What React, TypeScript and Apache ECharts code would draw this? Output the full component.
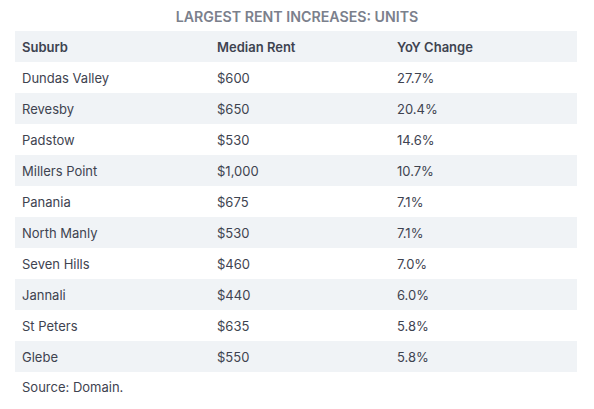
import React, { useEffect, useRef } from "react";
import * as echarts from "echarts";

const title = "LARGEST RENT INCREASES: UNITS";
const headers = ["Suburb", "Median Rent", "YoY Change"];
const suburbs = ["Dundas Valley", "Revesby", "Padstow", "Millers Point", "Panania", "North Manly", "Seven Hills", "Jannali", "St Peters", "Glebe"];
const rents = ["$600", "$650", "$530", "$1,000", "$675", "$530", "$460", "$440", "$635", "$550"];
const changes = ["27.7%", "20.4%", "14.6%", "10.7%", "7.1%", "7.1%", "7.0%", "6.0%", "5.8%", "5.8%"];
const source = "Source: Domain.";

export default function App() {
  const ref = useRef<HTMLDivElement>(null);
  useEffect(() => {
    if (!ref.current) return;
    const chart = echarts.init(ref.current, null, { renderer: "svg" });
    const font = "Inter, 'Noto Sans', sans-serif";
    const colX = [22, 217, 397];
    const left = 15, right = 577, top = 31, rowH = 31;
    const band = "#f0f3f6";
    const textColor = "#3e4350";
    const elements: any[] = [];
    elements.push({
      type: "text", x: 297, y: 16.5,
      style: { text: title, font: `600 14.2px ${font}`, fill: "#7b808c", align: "center", verticalAlign: "middle" },
    });
    elements.push({ type: "rect", shape: { x: left, y: top, width: right - left, height: rowH }, style: { fill: band } });
    headers.forEach((h, i) => {
      elements.push({
        type: "text", x: colX[i], y: top + rowH / 2,
        style: { text: h, font: `600 13px ${font}`, fill: textColor, verticalAlign: "middle" },
      });
    });
    suburbs.forEach((s, r) => {
      const y = top + rowH * (r + 1);
      if (r % 2 === 1) {
        elements.push({ type: "rect", shape: { x: left, y, width: right - left, height: rowH }, style: { fill: band } });
      }
      [s, rents[r], changes[r]].forEach((t, i) => {
        elements.push({
          type: "text", x: colX[i], y: y + rowH / 2,
          style: { text: t, font: `400 13px ${font}`, fill: textColor, verticalAlign: "middle" },
        });
      });
    });
    elements.push({
      type: "text", x: 22, y: top + rowH * (suburbs.length + 1) + 15,
      style: { text: source, font: `400 13px ${font}`, fill: textColor, verticalAlign: "middle" },
    });
    chart.setOption({
      animation: false,
      backgroundColor: "#ffffff",
      graphic: { elements },
    });
    return () => chart.dispose();
  }, []);
  return <div ref={ref} style={{ position: "fixed", left: 0, top: 0, width: 594, height: 409 }} />;
}
